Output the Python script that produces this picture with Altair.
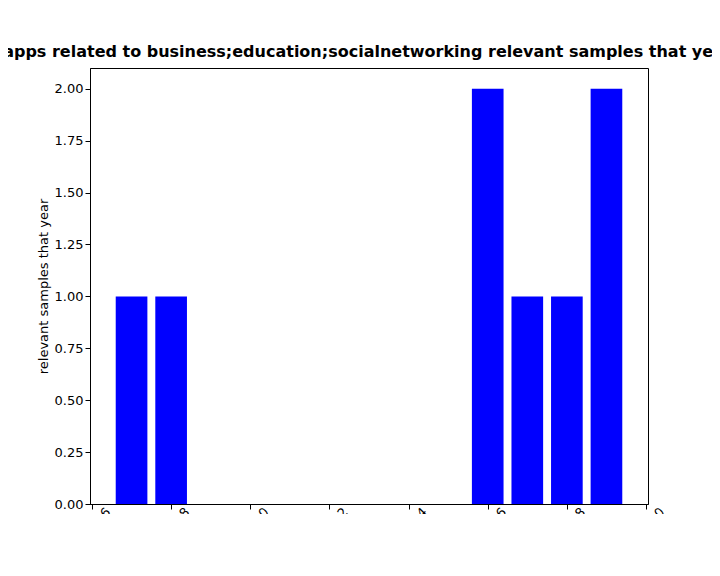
import altair as alt
import pandas as pd

years = [2007, 2008, 2016, 2017, 2018, 2019]
counts = [1, 1, 2, 1, 1, 2]

data = pd.DataFrame({"Year": years, "count": counts})

font = "DejaVu Sans"

chart = alt.Chart(data).transform_calculate(
    x0="datum.Year - 0.4", x1="datum.Year + 0.4"
).mark_bar(color="blue").encode(
    alt.X("x0:Q", title="Year", scale=alt.Scale(domain=[2005.95, 2020.05], nice=False, zero=False),
          axis=alt.Axis(values=list(range(2006, 2021, 2)), format="d", labelAngle=-45,
                        labelAlign="center", labelBaseline="top", labelPadding=8, titlePadding=4)),
    alt.X2("x1:Q"),
    alt.Y("count:Q", title="relevant samples that year",
          scale=alt.Scale(domain=[0, 2.1], nice=False),
          axis=alt.Axis(values=[0, 0.25, 0.5, 0.75, 1.0, 1.25, 1.5, 1.75, 2.0], format=".2f")),
    y2=alt.datum(0),
).properties(
    width=558, height=436,
    title=alt.TitleParams(
        "Number of apps related to business;education;socialnetworking relevant samples that year in per year",
        fontSize=16, fontWeight="bold", font=font, offset=8, anchor="middle"),
    padding={"left": 82, "top": 60, "right": 64, "bottom": 10},
    autosize=alt.AutoSizeParams(type="none"),
).configure_axis(
    grid=False, domainColor="black", tickColor="black", labelColor="black",
    titleColor="black", labelFont=font, titleFont=font, labelFontSize=13,
    titleFontSize=13, titleFontWeight="normal", tickSize=5,
).configure_view(stroke="black")

chart.save("out.html", embed_options={"renderer": "svg", "actions": False})
